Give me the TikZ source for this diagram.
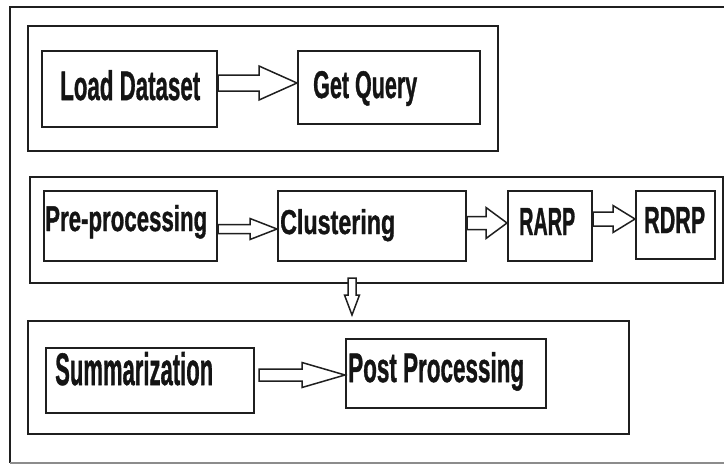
\documentclass[tikz,border=0pt]{standalone}
\usepackage{fontspec}
\usepackage{graphicx}
\setmainfont{Liberation Sans}[BoldFeatures={FakeBold=1.2}]
\usetikzlibrary{calc}

\tikzset{
  frame/.style={draw=black!88, line width=2pt, rectangle, inner sep=0pt, anchor=north west},
  stepbox/.style={draw=black!88, line width=2pt, rectangle, inner sep=0pt, anchor=north west},
  blockarrow/.style={draw=black!88, line width=1.5pt, fill=white, line join=miter},
  lbl/.style={anchor=base west, inner sep=0pt, text=black!92},
}

% label squeezed to a given width and height
\newcommand{\lbltext}[3]{\resizebox{#1}{#2}{\bfseries #3}}

% hollow block arrow, horizontal: start, tip, shaft half width, head half width, head length
\newcommand{\harrow}[5]{%
  \draw[blockarrow] ($(#1)+(0,-#3)$) -- ($(#2)+(-#5,-#3)$) -- ($(#2)+(-#5,-#4)$) -- (#2)
    -- ($(#2)+(-#5,#4)$) -- ($(#2)+(-#5,#3)$) -- ($(#1)+(0,#3)$) -- cycle;}
% hollow block arrow pointing down
\newcommand{\varrow}[5]{%
  \draw[blockarrow] ($(#1)+(-#3,0)$) -- ($(#2)+(-#3,-#5)$) -- ($(#2)+(-#4,-#5)$) -- (#2)
    -- ($(#2)+(#4,-#5)$) -- ($(#2)+(#3,-#5)$) -- ($(#1)+(#3,0)$) -- cycle;}

\begin{document}
\begin{tikzpicture}[x=1pt, y=-1pt]
\useasboundingbox (0,0) rectangle (724,464);
\fill[white] (0,0) rectangle (724,464);
\clip (0,0) rectangle (724,464);

% outer frame
\draw[black!88, line width=2pt] (740,6.5) -- (10,6.5) -- (10,463);
\draw[black!45, line width=1.2pt] (10,463) -- (740,463);

% group frames
\node[frame, minimum width=470pt, minimum height=125pt] (g1) at (27,25) {};
\node[frame, minimum width=693pt, minimum height=106pt] (g2) at (29,176) {};
\node[frame, minimum width=601pt, minimum height=113pt] (g3) at (27,320) {};

% process boxes
\node[stepbox, minimum width=175pt, minimum height=76pt] (load) at (41,50) {};
\node[stepbox, minimum width=182pt, minimum height=73pt] (get) at (297,50) {};
\node[stepbox, minimum width=173pt, minimum height=70pt] (pre) at (43,190) {};
\node[stepbox, minimum width=188pt, minimum height=70pt] (clust) at (277,190) {};
\node[stepbox, minimum width=84pt, minimum height=70pt] (rarp) at (507,190) {};
\node[stepbox, minimum width=79pt, minimum height=68pt] (rdrp) at (635,190) {};
\node[stepbox, minimum width=208pt, minimum height=65pt] (summ) at (45,347) {};
\node[stepbox, minimum width=200pt, minimum height=69pt] (post) at (345,338) {};

% labels
\node[lbl] (loadT) at (60,100) {\lbltext{140pt}{30pt}{Load Dataset}};
\node[lbl] (getT) at (313,98) {\lbltext{104pt}{27pt}{Get Query}};
\node[lbl] (preT) at (45,231) {\lbltext{162pt}{26pt}{Pre-processing}};
\node[lbl] (clustT) at (280,234) {\lbltext{115pt}{25pt}{Clustering}};
\node[lbl] (rarpT) at (519,235) {\lbltext{56pt}{27pt}{RARP}};
\node[lbl] (rdrpT) at (644,233) {\lbltext{61pt}{26pt}{RDRP}};
\node[lbl] (summT) at (55,385) {\lbltext{158pt}{33pt}{Summarization}};
\node[lbl] (postT) at (348,382) {\lbltext{176pt}{30pt}{Post Processing}};

% connectors
\coordinate (a1s) at ($(load.east)+(0,-6)$);
\coordinate (a1t) at (a1s -| get.west);
\harrow{a1s}{a1t}{8}{17}{38}

\coordinate (a2s) at ($(pre.east)+(0,3)$);
\coordinate (a2t) at (a2s -| clust.west);
\harrow{a2s}{a2t}{4.5}{10.5}{27}

\coordinate (a3s) at ($(clust.east)+(0,-3)$);
\coordinate (a3t) at (a3s -| rarp.west);
\harrow{a3s}{a3t}{6.5}{15.5}{21}

\coordinate (a4s) at ($(rarp.east)+(0,-7)$);
\coordinate (a4t) at (a4s -| rdrp.west);
\harrow{a4s}{a4t}{7}{13.5}{22}

\coordinate (a5s) at ($(summ.east)+(4,-5.5)$);
\coordinate (a5t) at (a5s -| post.west);
\harrow{a5s}{a5t}{6}{12.5}{43}

\coordinate (a6s) at ($(clust.south)+(-20,16)$);
\coordinate (a6t) at ($(a6s |- g3.north)+(0,-5)$);
\varrow{a6s}{a6t}{4}{7.5}{20}
\end{tikzpicture}
\end{document}
